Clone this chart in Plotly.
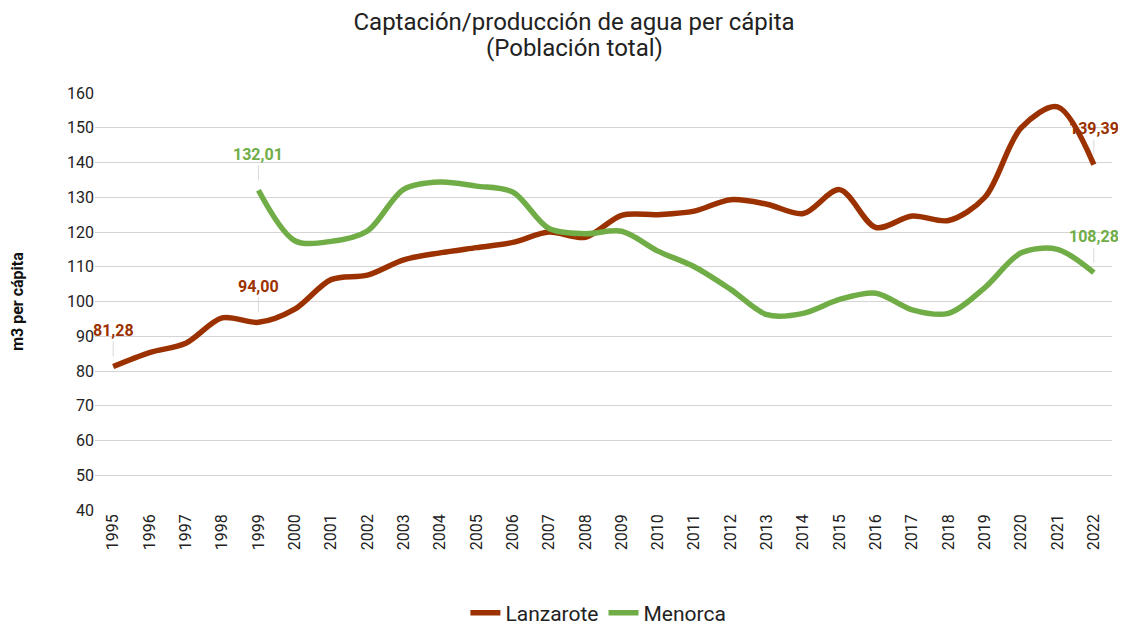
import plotly.graph_objects as go

years = [str(y) for y in range(1995, 2023)]
lanzarote = [81.28, 85.3, 88.0, 95.3, 94.00, 97.8, 106.3, 107.6, 112.0, 114.0,
             115.5, 117.0, 120.0, 118.5, 124.8, 125.0, 126.0, 129.3, 128.0, 125.3,
             132.2, 121.3, 124.6, 123.3, 130.0, 150.0, 156.0, 139.39]
menorca = [None, None, None, None, 132.01, 117.5, 117.3, 120.3, 132.3, 134.4,
           133.2, 131.5, 121.0, 119.5, 120.2, 114.5, 110.0, 103.5, 96.2, 96.6,
           100.6, 102.4, 97.6, 96.6, 104.0, 114.0, 115.0, 108.28]
series_names = ["Lanzarote", "Menorca"]
colors = ["#9C3100", "#70AD47"]
title_lines = ["Captación/producción de agua per cápita", "(Población total)"]
y_title = "m3 per cápita"

FONT = "Roboto"
W, H = 1118, 618
ML, MR, MT, MB = 87, 14, 85, 116
PH = H - MT - MB
PW = W - ML - MR

fig = go.Figure()
for name, vals, col in zip(series_names, [lanzarote, menorca], colors):
    fig.add_trace(go.Scatter(
        x=years, y=vals, name=name, mode="lines",
        line=dict(color=col, width=5.5, shape="spline", smoothing=0.9),
        connectgaps=False,
    ))

def fmt(v):
    return f"{v:.2f}".replace(".", ",")

# (category index, value, colour) for the labelled points
labels = [
    (0, lanzarote[0], colors[0]),
    (4, lanzarote[4], colors[0]),
    (4, menorca[4], colors[1]),
    (len(years) - 1, lanzarote[-1], colors[0]),
    (len(years) - 1, menorca[-1], colors[1]),
]
for xi, v, col in labels:
    fig.add_annotation(
        x=xi, y=v, xref="x", yref="y", text=f"<b>{fmt(v)}</b>",
        showarrow=True, arrowhead=0, arrowwidth=1, arrowcolor="#d9d9d9",
        ax=0, ay=-36, standoff=10,
        font=dict(family=FONT, size=16, color=col),
    )

# second title line
fig.add_annotation(
    text=title_lines[1], xref="paper", yref="paper",
    x=(566 - ML) / PW, y=1 + (MT - 40) / PH, xanchor="center", yanchor="middle",
    showarrow=False, font=dict(family=FONT, size=24, color="#222222"),
)

fig.update_layout(
    width=W, height=H,
    paper_bgcolor="white", plot_bgcolor="white",
    margin=dict(l=ML, r=MR, t=MT, b=MB),
    title=dict(text=title_lines[0], x=566 / W, xanchor="center",
               yref="container", y=1 - 14 / H, yanchor="middle",
               font=dict(family=FONT, size=24, color="#222222")),
    font=dict(family=FONT, color="#333333"),
    showlegend=True,
    legend=dict(orientation="h", x=0.495, xanchor="center",
                yref="container", y=0.021, yanchor="middle",
                font=dict(family=FONT, size=21, color="#222222"),
                itemwidth=30),
    xaxis=dict(type="category", tickangle=-90, showgrid=False, showline=False,
               ticks="", automargin=False,
               tickfont=dict(family=FONT, size=16, color="#222222"),
               range=[-0.5, 27.5]),
    yaxis=dict(range=[40, 160], dtick=10, showgrid=True, gridcolor="#d4d4d4",
               gridwidth=1.2, zeroline=False, showline=False, ticks="",
               automargin=False,
               tickfont=dict(family=FONT, size=16, color="#222222"),
               title=dict(text=f"<b>{y_title}</b>", standoff=46,
                          font=dict(family=FONT, size=16, color="#111111"))),
)

fig.write_html("out.html")
